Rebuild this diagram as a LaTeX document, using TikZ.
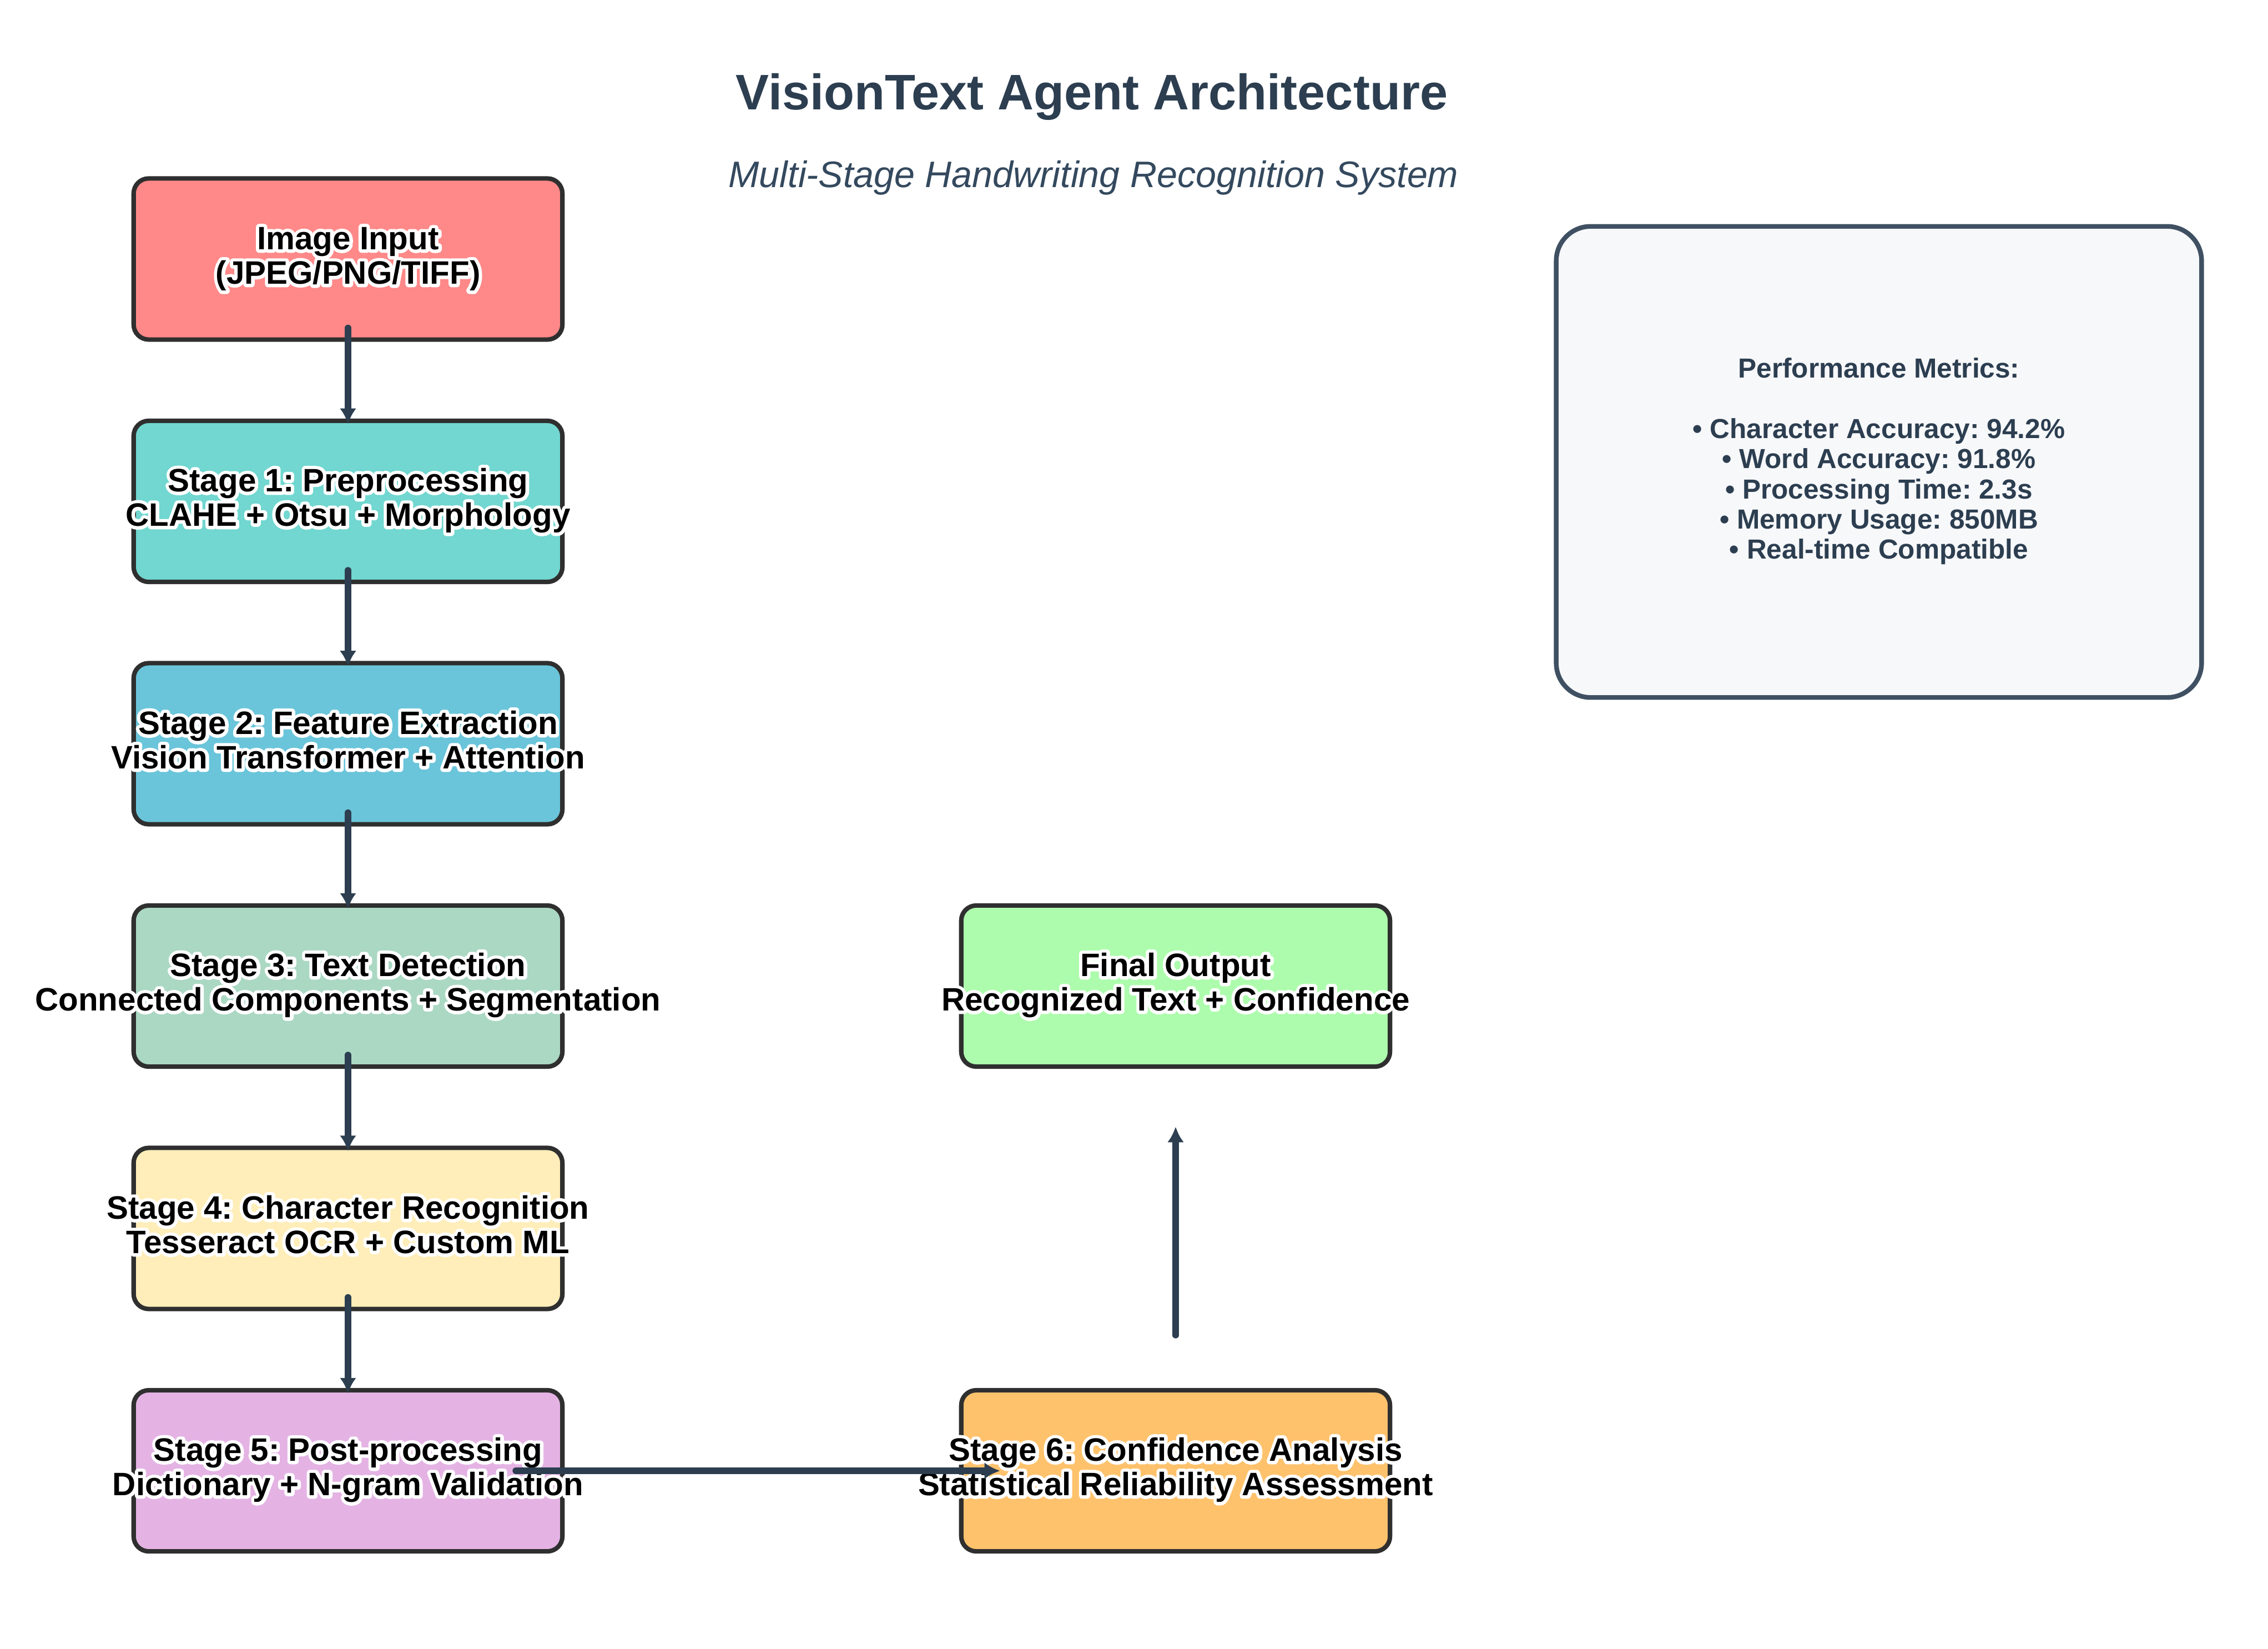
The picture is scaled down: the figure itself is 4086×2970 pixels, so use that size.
\documentclass[tikz,border=0pt]{standalone}
\usepackage{fontspec}
\setmainfont{Liberation Sans}
\usetikzlibrary{arrows.meta}
\frenchspacing
\definecolor{titlec}{HTML}{2C3E50}
\definecolor{subc}{HTML}{34495E}
\definecolor{boxline}{HTML}{2F2F2F}
\definecolor{arrowc}{HTML}{2C3E50}
\definecolor{metline}{HTML}{3F5062}
\definecolor{metfill}{HTML}{F7F8FA}
\definecolor{cA}{HTML}{FF8989}
\definecolor{cB}{HTML}{71D7D0}
\definecolor{cC}{HTML}{6AC5DA}
\definecolor{cD}{HTML}{ABD8C3}
\definecolor{cE}{HTML}{FFEEB9}
\definecolor{cF}{HTML}{E4B3E4}
\definecolor{cG}{HTML}{FFC26C}
\definecolor{cH}{HTML}{ADFCAD}
% white halo behind black text: stroked copy, then filled copy
\newcommand{\halo}[1]{\leavevmode\rlap{\special{pdf:literal direct 1 1 1 RG 1 Tr 3.4 w 1 j}#1\special{pdf:literal direct 0 Tr 0 0 0 RG}}#1}
\newcommand{\olab}[2]{\begin{tabular}{@{}c@{}}\halo{#1}\\\halo{#2}\end{tabular}}
\tikzset{
  box/.style={draw=boxline, line width=2.3pt, rounded corners=0.27cm,
    minimum width=7.72cm, minimum height=2.90cm, inner sep=0pt},
  lbl/.style={inner sep=0pt, text=black, font=\fontsize{16.6}{17.65}\selectfont\bfseries},
  flow/.style={draw=arrowc, line width=3.3pt, line cap=round,
    -{Latex[length=8pt,width=8.5pt]}},
}
\begin{document}
\begin{tikzpicture}[x=0.01cm, y=-0.01cm]
\fill[white] (0,0) rectangle (4086,2970);
\useasboundingbox (0,0) rectangle (4086,2970);

% titles
\node[anchor=base, inner sep=0pt, text=titlec, font=\fontsize{25.6}{30}\selectfont\bfseries] (title) at (1967,198) {VisionText Agent Architecture};
\node[anchor=base, inner sep=0pt, text=subc, font=\fontsize{18.9}{22}\selectfont\itshape] (subtitle) at (1970,338) {Multi-Stage Handwriting Recognition System};

% boxes
\node[box, fill=cA] (b0) at (627,466.5) {};
\node[box, fill=cB] (b1) at (627,903) {};
\node[box, fill=cC] (b2) at (627,1339.5) {};
\node[box, fill=cD] (b3) at (627,1776) {};
\node[box, fill=cE] (b4) at (627,2212.5) {};
\node[box, fill=cF] (b5) at (627,2649) {};
\node[box, fill=cH] (fo) at (2118,1776) {};
\node[box, fill=cG] (s6) at (2118,2649) {};

% labels
\node[lbl] (t0) at (627,468) {\olab{Image Input}{(JPEG/PNG/TIFF)}};
\node[lbl] (t1) at (627,904) {\olab{Stage 1: Preprocessing}{CLAHE + Otsu + Morphology}};
\node[lbl] (t2) at (627,1341) {\olab{Stage 2: Feature Extraction}{Vision Transformer + Attention}};
\node[lbl] (t3) at (627,1777) {\olab{Stage 3: Text Detection}{Connected Components + Segmentation}};
\node[lbl] (t4) at (627,2214) {\olab{Stage 4: Character Recognition}{Tesseract OCR + Custom ML}};
\node[lbl] (t5) at (627,2650) {\olab{Stage 5: Post-processing}{Dictionary + N-gram Validation}};
\node[lbl] (tfo) at (2118,1777) {\olab{Final Output}{Recognized Text + Confidence}};
\node[lbl] (ts6) at (2118,2650) {\olab{Stage 6: Confidence Analysis}{Statistical Reliability Assessment}};

% metrics
\node[draw=metline, fill=metfill, line width=2.4pt, rounded corners=0.62cm,
  minimum width=11.62cm, minimum height=8.48cm, inner sep=0pt] (mbox) at (3385,832) {};
\node[inner sep=0pt, text=titlec, font=\fontsize{14.1}{15.45}\selectfont\bfseries] (mtext) at (3385,833)
  {\begin{tabular}{@{}c@{}}Performance Metrics:\\ \\
  • Character Accuracy: 94.2\%\\
  • Word Accuracy: 91.8\%\\
  • Processing Time: 2.3s\\
  • Memory Usage: 850MB\\
  • Real-time Compatible\end{tabular}};

% connectors
\draw[flow] ([yshift=0.25cm]b0.south) -- ([yshift=-0.10cm]b1.north);
\draw[flow] ([yshift=0.25cm]b1.south) -- ([yshift=-0.10cm]b2.north);
\draw[flow] ([yshift=0.25cm]b2.south) -- ([yshift=-0.10cm]b3.north);
\draw[flow] ([yshift=0.25cm]b3.south) -- ([yshift=-0.10cm]b4.north);
\draw[flow] ([yshift=0.25cm]b4.south) -- ([yshift=-0.10cm]b5.north);
\draw[flow] ([xshift=3.02cm]b5.center) -- ([xshift=-3.16cm]s6.center);
\draw[flow] ([yshift=0.95cm]s6.north) -- ([yshift=-1.04cm]fo.south);
\end{tikzpicture}
\end{document}
